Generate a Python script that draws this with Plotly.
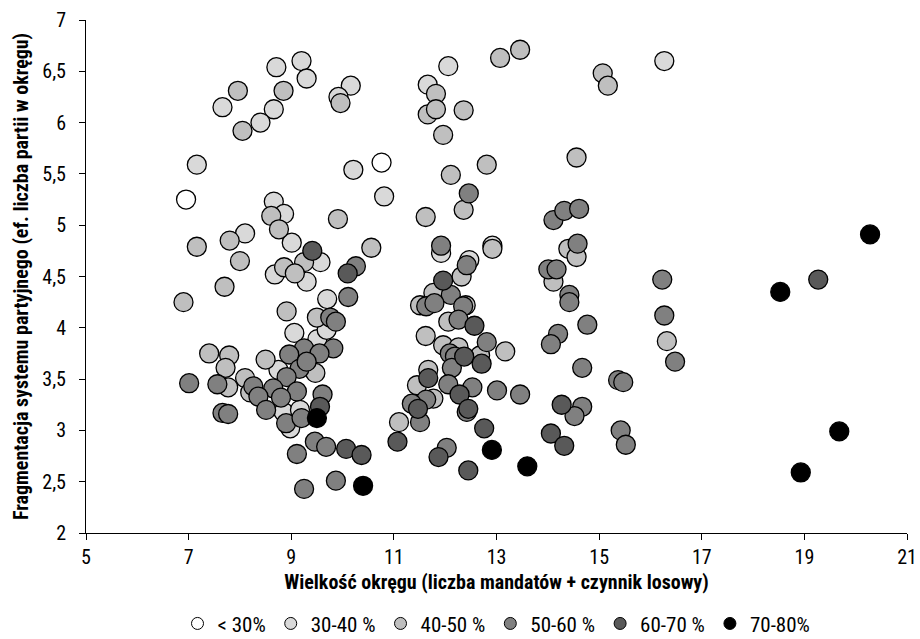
import plotly.graph_objects as go

# Wielkość okręgu (x) i fragmentacja systemu partyjnego (y), pogrupowane wg przedziału
lt30_x = [6.95, 10.76]
lt30_y = [5.25, 5.61]

p30_40_x = [9.20, 9.30, 8.71, 7.66, 8.66, 8.40, 10.16, 9.92, 7.16, 10.21, 10.81, 8.66, 8.86,
            8.10, 9.01, 9.57, 8.68, 9.30, 9.70, 9.06, 9.51, 9.69, 8.75, 8.85, 9.17, 8.98,
            12.06, 11.66, 11.92, 12.92, 12.47, 16.27]
p30_40_y = [6.60, 6.43, 6.54, 6.15, 6.13, 6.00, 6.36, 6.25, 5.59, 5.54, 5.28, 5.23, 5.11,
            4.92, 4.83, 4.64, 4.52, 4.45, 4.28, 3.95, 3.89, 3.98, 3.59, 3.18, 3.20, 3.02,
            6.55, 6.37, 4.73, 4.80, 4.66, 6.60]

p40_50_x = [7.96, 8.85, 8.05, 9.96, 8.61, 8.76, 9.91, 7.16, 7.80, 8.00, 10.56, 9.25, 8.86,
            9.07, 7.70, 6.90, 8.91, 9.50, 7.40, 7.79, 7.72, 8.50, 9.47, 8.10, 7.77, 8.20,
            11.82, 11.66, 11.82, 12.36, 11.96, 13.07, 13.46, 15.07, 15.17, 14.56, 12.81,
            12.11, 12.36, 11.62, 12.92, 12.32, 14.40, 14.56, 14.11, 11.77, 11.51, 12.40,
            12.06, 11.62, 13.17, 11.96, 12.26, 12.68, 11.67, 11.45, 11.77, 11.10, 16.32]
p40_50_y = [6.31, 6.31, 5.92, 6.19, 5.09, 4.96, 5.06, 4.79, 4.85, 4.65, 4.78, 4.64, 4.59,
            4.53, 4.40, 4.25, 4.16, 4.10, 3.75, 3.73, 3.61, 3.69, 3.56, 3.51, 3.42, 3.37,
            6.28, 6.08, 6.13, 6.12, 5.88, 6.63, 6.71, 6.48, 6.36, 5.66, 5.59,
            5.49, 5.15, 5.08, 4.77, 4.50, 4.77, 4.69, 4.45, 4.34, 4.22, 4.22,
            4.06, 3.92, 3.77, 3.83, 3.81, 3.73, 3.59, 3.44, 3.31, 3.08, 3.87]

p50_60_x = [10.26, 10.11, 9.76, 9.87, 9.82, 9.25, 8.96, 9.55, 9.16, 8.91, 9.30, 7.01, 7.56,
            8.26, 8.65, 9.11, 8.36, 8.80, 9.61, 7.66, 7.77, 8.51, 8.90, 9.20, 9.46, 9.68,
            9.11, 9.87, 9.25, 12.46, 14.11, 14.32, 14.61, 11.92, 12.42, 14.58, 14.01, 14.17,
            16.23, 12.11, 11.63, 11.79, 12.35, 12.26, 12.81, 12.09, 12.19, 12.13, 12.06,
            12.53, 13.01, 13.46, 11.63, 11.35, 11.51, 12.42, 12.03, 14.42, 14.42, 14.77,
            14.20, 14.06, 14.67, 15.37, 15.47, 14.67, 14.52, 15.42, 15.52, 16.27, 16.48]
p50_60_y = [4.60, 4.30, 4.10, 4.06, 3.80, 3.80, 3.74, 3.75, 3.60, 3.52, 3.67, 3.46, 3.45,
            3.43, 3.41, 3.38, 3.33, 3.32, 3.35, 3.17, 3.16, 3.20, 3.07, 3.12, 2.89, 2.84,
            2.77, 2.51, 2.43, 5.31, 5.05, 5.14, 5.16, 4.80, 4.61, 4.82, 4.57, 4.57,
            4.47, 4.32, 4.21, 4.24, 4.21, 4.08, 3.86, 3.75, 3.72, 3.61, 3.45,
            3.42, 3.39, 3.35, 3.30, 3.26, 3.08, 3.18, 2.83, 4.32, 4.25, 4.03,
            3.94, 3.84, 3.61, 3.49, 3.47, 3.23, 3.14, 3.00, 2.86, 4.12, 3.67]

p60_70_x = [10.10, 9.41, 9.56, 10.07, 10.37, 11.07, 11.96, 12.57, 12.37, 12.71, 11.67, 12.28,
            11.47, 12.45, 12.76, 11.87, 12.45, 14.27, 14.06, 14.32, 19.27]
p60_70_y = [4.53, 4.75, 3.23, 2.82, 2.76, 2.89, 4.46, 4.02, 3.72, 3.65, 3.51, 3.35,
            3.21, 3.21, 3.02, 2.74, 2.61, 3.25, 2.97, 2.85, 4.47]

p70_80_x = [9.50, 10.40, 12.91, 13.60, 20.28, 18.53, 19.68, 18.93]
p70_80_y = [3.12, 2.46, 2.81, 2.65, 4.91, 4.35, 2.99, 2.59]

group_names = ["< 30%", "30-40 %", "40-50 %", "50-60 %", "60-70 %", "70-80%"]
group_colors = ["#ffffff", "#d9d9d9", "#bfbfbf", "#808080", "#595959", "#000000"]
group_x = [lt30_x, p30_40_x, p40_50_x, p50_60_x, p60_70_x, p70_80_x]
group_y = [lt30_y, p30_40_y, p40_50_y, p50_60_y, p60_70_y, p70_80_y]

x_ticks = [5, 7, 9, 11, 13, 15, 17, 19, 21]
y_ticks = [2, 2.5, 3, 3.5, 4, 4.5, 5, 5.5, 6, 6.5, 7]
y_tick_text = ["2", "2,5", "3", "3,5", "4", "4,5", "5", "5,5", "6", "6,5", "7"]

FONT = "Liberation Sans Narrow, Arial Narrow, Roboto Condensed, DejaVu Sans Condensed, sans-serif"

fig = go.Figure()

for name, color, xs, ys in zip(group_names, group_colors, group_x, group_y):
    fig.add_trace(go.Scatter(
        x=xs, y=ys, mode="markers", name=name, showlegend=False,
        marker=dict(size=19, color=color, line=dict(color="#000000", width=1.3)),
        hoverinfo="x+y+name",
    ))

# smaller symbols for the legend
for name, color in zip(group_names, group_colors):
    fig.add_trace(go.Scatter(
        x=[None], y=[None], mode="markers", name=name, showlegend=True,
        marker=dict(size=12, color=color, line=dict(color="#000000", width=1)),
    ))

fig.update_layout(
    width=920, height=639,
    margin=dict(l=86, r=13, t=20, b=106, autoexpand=False),
    paper_bgcolor="#ffffff", plot_bgcolor="#ffffff",
    font=dict(family=FONT, size=20, color="#000000"),
    showlegend=True,
    legend=dict(orientation="h", x=0.5, xanchor="center", y=-0.177, yanchor="middle",
                font=dict(family=FONT, size=21, color="#000000"),
                itemsizing="trace", traceorder="normal", tracegroupgap=0),
    xaxis=dict(
        range=[5, 21], tickvals=x_ticks, ticktext=[str(v) for v in x_ticks],
        showgrid=False, zeroline=False, showline=True, linecolor="#000000", linewidth=1,
        ticks="outside", ticklen=6, tickcolor="#000000",
        title=dict(text="<b>Wielkość okręgu (liczba mandatów + czynnik losowy)</b>",
                   font=dict(family=FONT, size=20), standoff=6),
    ),
    yaxis=dict(
        range=[2, 7], tickvals=y_ticks, ticktext=y_tick_text,
        showgrid=False, zeroline=False, showline=True, linecolor="#000000", linewidth=1,
        ticks="outside", ticklen=6, tickcolor="#000000", ticklabelstandoff=9,
        title=dict(text="<b>Fragmentacja systemu partyjnego (ef. liczba partii w okręgu)</b>",
                   font=dict(family=FONT, size=20), standoff=8),
    ),
)

fig.write_html("out.html")
